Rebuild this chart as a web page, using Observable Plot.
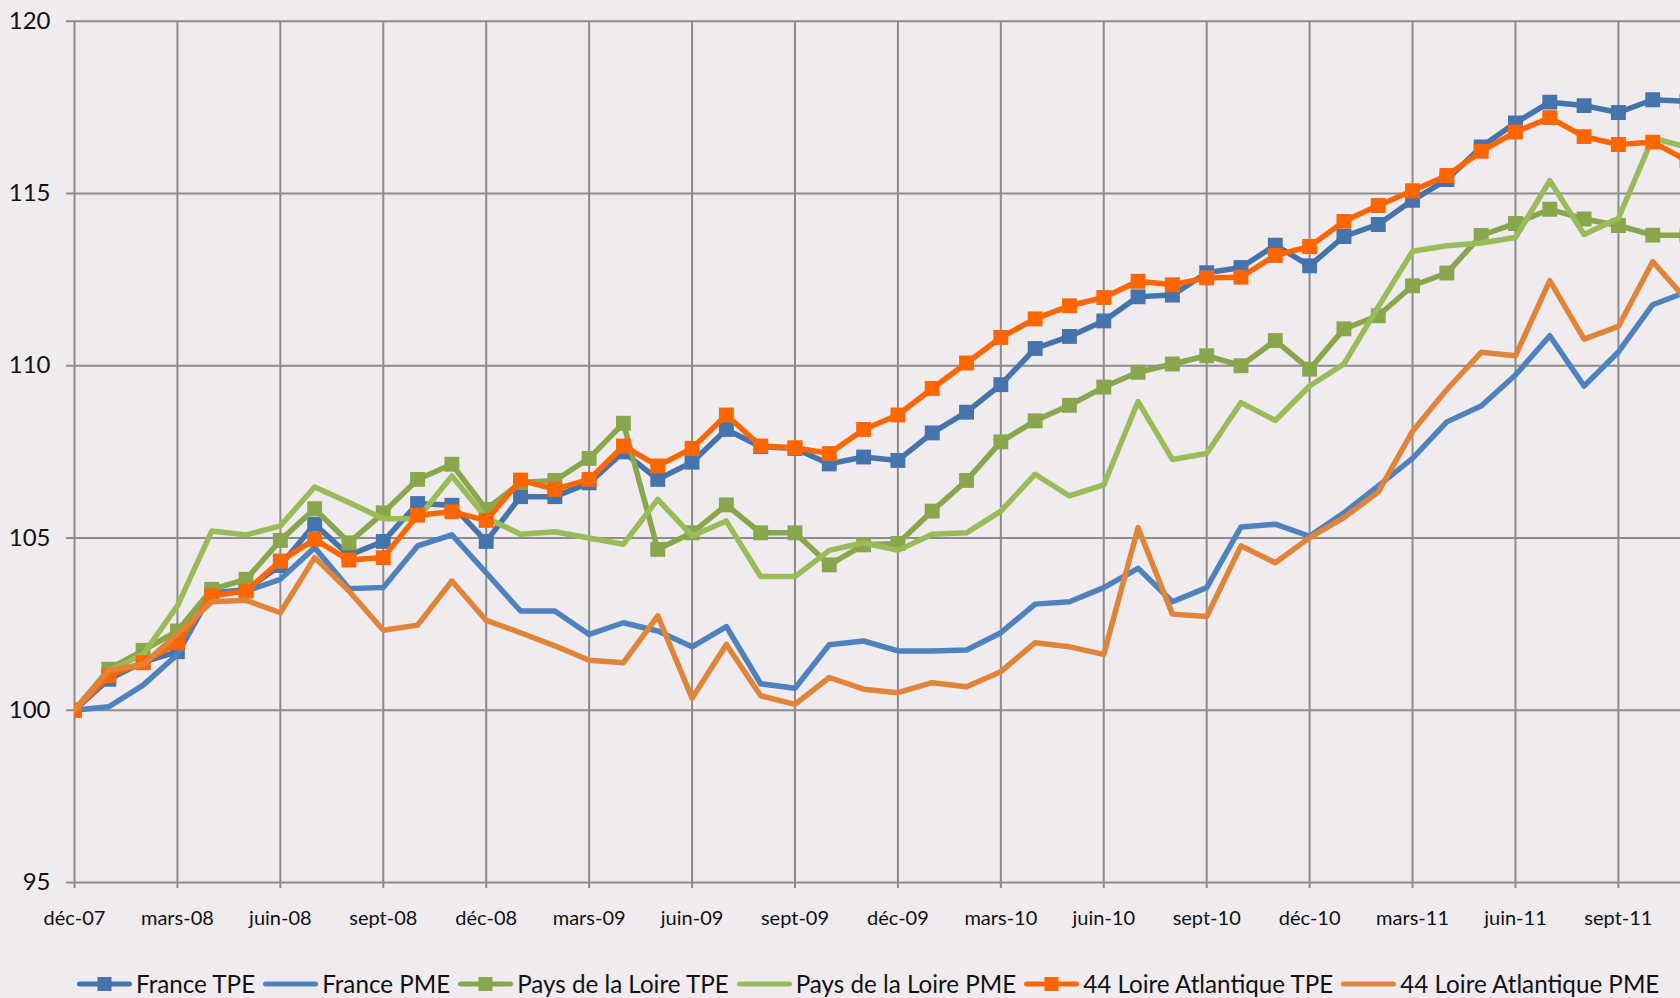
<!DOCTYPE html>
<html>
<head>
<meta charset="utf-8">
<script src="https://cdn.jsdelivr.net/npm/d3@7"></script>
<script src="https://cdn.jsdelivr.net/npm/@observablehq/plot@0.6"></script>
<style>
  html, body { margin: 0; padding: 0; background: #EFEBEF; }
  body { width: 1680px; height: 998px; overflow: hidden; position: relative; font-family: Lato, "Open Sans", sans-serif; }
  #chart svg { display: block; }
  #legend { position: absolute; left: 77px; top: 969px; display: flex; align-items: center; white-space: nowrap; font-size: 24.2px; color: #111; }
  .item { display: flex; align-items: center; margin-right: 8px; }
  .item svg { margin-right: 4px; }
</style>
</head>
<body>
<div id="chart"></div>
<div id="legend"></div>
<script>
const months = ["déc-07","janv-08","févr-08","mars-08","avr-08","mai-08","juin-08","juil-08","août-08","sept-08","oct-08","nov-08",
  "déc-08","janv-09","févr-09","mars-09","avr-09","mai-09","juin-09","juil-09","août-09","sept-09","oct-09","nov-09",
  "déc-09","janv-10","févr-10","mars-10","avr-10","mai-10","juin-10","juil-10","août-10","sept-10","oct-10","nov-10",
  "déc-10","janv-11","févr-11","mars-11","avr-11","mai-11","juin-11","juil-11","août-11","sept-11","oct-11","nov-11"];

const tickMonths = ["déc-07","mars-08","juin-08","sept-08","déc-08","mars-09","juin-09","sept-09","déc-09","mars-10","juin-10","sept-10","déc-10","mars-11","juin-11","sept-11"];
const yTicks = [95, 100, 105, 110, 115, 120];

const seriesNames = ["France TPE","France PME","Pays de la Loire TPE","Pays de la Loire PME","44 Loire Atlantique TPE","44 Loire Atlantique PME"];
const seriesColors = ["#4573AB","#4F81BD","#89A64C","#9BBB59","#FF6600","#E0843A"];
const seriesMarkers = [true, false, true, false, true, false];

const franceTPE = [100,100.9,101.4,101.7,103.4,103.5,104.2,105.4,104.5,104.9,106.0,105.95,
  104.9,106.2,106.2,106.6,107.5,106.7,107.2,108.15,107.65,107.6,107.15,107.35,
  107.25,108.05,108.65,109.45,110.5,110.85,111.3,112.0,112.05,112.7,112.85,113.5,
  112.9,113.75,114.1,114.8,115.4,116.35,117.05,117.65,117.55,117.35,117.72,117.67];
const francePME = [100,100.1,100.73,101.62,103.41,103.46,103.8,104.72,103.53,103.56,104.77,105.09,
  103.99,102.88,102.88,102.2,102.54,102.3,101.84,102.43,100.77,100.64,101.9,102.01,
  101.72,101.72,101.75,102.25,103.08,103.15,103.56,104.12,103.15,103.56,105.32,105.4,
  105.05,105.73,106.51,107.31,108.37,108.83,109.73,110.87,109.41,110.4,111.77,112.15];
const paysTPE = [100,101.19,101.74,102.3,103.51,103.8,104.93,105.85,104.86,105.73,106.7,107.14,
  105.83,106.61,106.67,107.31,108.33,104.67,105.15,105.96,105.15,105.15,104.22,104.8,
  104.84,105.78,106.67,107.79,108.4,108.85,109.38,109.81,110.05,110.29,110.0,110.73,
  109.9,111.07,111.45,112.32,112.69,113.78,114.13,114.54,114.26,114.07,113.79,113.79];
const paysPME = [100,101.15,101.62,103.03,105.2,105.09,105.35,106.48,106.03,105.56,105.56,106.8,
  105.59,105.11,105.18,105.0,104.82,106.12,105.06,105.49,103.88,103.88,104.64,104.86,
  104.64,105.11,105.15,105.78,106.85,106.22,106.54,108.96,107.28,107.45,108.93,108.41,
  109.41,110.05,111.71,113.32,113.48,113.56,113.72,115.37,113.81,114.28,116.61,116.34];
const loireTPE = [100,101.0,101.38,101.96,103.32,103.46,104.33,104.96,104.36,104.43,105.66,105.76,
  105.51,106.68,106.41,106.7,107.67,107.09,107.6,108.57,107.67,107.62,107.45,108.15,
  108.57,109.34,110.08,110.82,111.36,111.74,111.98,112.45,112.35,112.55,112.57,113.2,
  113.46,114.19,114.65,115.08,115.52,116.22,116.78,117.2,116.65,116.42,116.49,115.95];
const loirePME = [100,101.16,101.33,102.21,103.15,103.19,102.83,104.43,103.46,102.32,102.47,103.75,
  102.61,102.25,101.87,101.45,101.38,102.74,100.35,101.91,100.42,100.17,100.95,100.61,
  100.51,100.8,100.68,101.12,101.96,101.84,101.62,105.3,102.79,102.72,104.77,104.28,
  105.01,105.59,106.33,108.1,109.31,110.39,110.29,112.47,110.77,111.14,113.02,111.9];

const seriesValues = [franceTPE, francePME, paysTPE, paysPME, loireTPE, loirePME];

const rows = [];
seriesValues.forEach((vals, s) => vals.forEach((v, i) => rows.push({series: seriesNames[s], i, month: months[i], value: v})));
const tickIdx = tickMonths.map(m => months.indexOf(m));

const marks = [
  Plot.gridY({ticks: yTicks, stroke: "#8C8C8C", strokeOpacity: 1, strokeWidth: 2}),
  Plot.gridX({ticks: tickIdx, stroke: "#8C8C8C", strokeOpacity: 1, strokeWidth: 2}),
  Plot.axisY({ticks: yTicks, label: null, tickSize: 8, tickPadding: 16, fontSize: 24, stroke: "#8C8C8C", strokeWidth: 2, tickFormat: d => String(d)}),
  Plot.axisX({ticks: tickIdx, label: null, tickSize: 6, tickPadding: 22, fontSize: 20, stroke: "#8C8C8C", strokeWidth: 2, tickFormat: i => months[i]})
];
seriesNames.forEach((name, s) => {
  const data = rows.filter(r => r.series === name);
  marks.push(Plot.line(data, {x: "i", y: "value", stroke: seriesColors[s], strokeWidth: 5.5, strokeLinejoin: "round", strokeLinecap: "round", clip: true}));
  if (seriesMarkers[s]) {
    marks.push(Plot.dot(data, {x: "i", y: "value", symbol: "square", r: 8.4, fill: seriesColors[s], stroke: "none", clip: true}));
  }
});

const chart = Plot.plot({
  width: 1680,
  height: 958,
  marginLeft: 74,
  marginRight: 0,
  marginTop: 20.7,
  marginBottom: 76,
  style: {background: "transparent", fontFamily: "Lato, 'Open Sans', sans-serif", color: "#111", overflow: "hidden"},
  x: {type: "linear", domain: [0, 46.81], axis: null, label: null},
  y: {domain: [95, 120], axis: null, label: null},
  marks
});
document.getElementById("chart").appendChild(chart);

const legend = document.getElementById("legend");
seriesNames.forEach((name, s) => {
  const item = document.createElement("div");
  item.className = "item";
  const marker = seriesMarkers[s] ? `<rect x="20.5" y="0" width="14" height="14" fill="${seriesColors[s]}"/>` : "";
  item.innerHTML = `<svg width="55" height="14" viewBox="0 0 55 14"><line x1="2.5" y1="7" x2="52.5" y2="7" stroke="${seriesColors[s]}" stroke-width="5" stroke-linecap="round"/>${marker}</svg><span>${name}</span>`;
  legend.appendChild(item);
});
</script>
</body>
</html>
